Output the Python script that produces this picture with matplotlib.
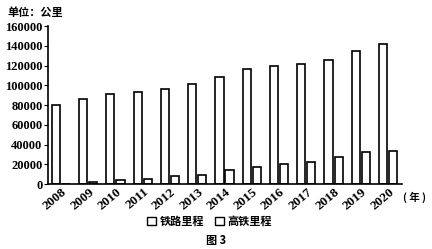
import numpy as np
import matplotlib
matplotlib.use("Agg")
import matplotlib.pyplot as plt
from matplotlib.patches import Patch

plt.rcParams['font.family'] = ['Liberation Serif', 'Noto Sans CJK SC']

years = ['2008', '2009', '2010', '2011', '2012', '2013', '2014',
         '2015', '2016', '2017', '2018', '2019', '2020']
railway = [80000, 85800, 91000, 93500, 96500, 101000, 109000,
           117000, 119500, 121500, 125600, 134700, 142000]
high_speed = [600, 2700, 4400, 5000, 8100, 9100, 14200,
              17500, 20300, 22600, 27700, 32400, 33700]

fig = plt.figure(figsize=(4.32, 2.49), dpi=100)
ax = fig.add_axes([0.111, 0.26, 0.82, 0.635])

x = np.arange(len(years))
w = 0.3
ax.bar(x, railway, w, color='white', edgecolor='black', linewidth=1.2)
ax.bar(x + 0.37, high_speed, w, color='white', edgecolor='black', linewidth=1.2)

ax.set_xlim(-0.29, 12.7)
ax.set_ylim(0, 160000)
ax.set_yticks(np.arange(0, 160001, 20000))
ax.tick_params(axis='y', labelsize=9, length=3, pad=1)
ax.set_xticks(x + 0.2)
ax.set_xticklabels(years, rotation=40, ha='right', rotation_mode='anchor',
                   fontsize=9.5, fontweight='bold')
ax.tick_params(axis='x', length=0, pad=1)
for lab in ax.get_yticklabels():
    lab.set_fontweight('bold')
ax.spines['top'].set_visible(False)
ax.spines['right'].set_visible(False)
ax.spines['left'].set_linewidth(1.2)
ax.spines['bottom'].set_linewidth(1.2)

cjk = ['Noto Sans CJK SC', 'DejaVu Sans']
fig.text(0.018, 0.935, '单位：公里', fontsize=8, fontweight='bold', family=cjk)
fig.text(0.932, 0.195, '( 年 )', fontsize=7.5, fontweight='bold', family=cjk)

handles = [Patch(facecolor='white', edgecolor='black', label='铁路里程'),
           Patch(facecolor='white', edgecolor='black', label='高铁里程')]
fig.legend(handles=handles, loc='center', bbox_to_anchor=(0.485, 0.112), ncol=2,
           frameon=False, handlelength=0.8, handleheight=0.8, handletextpad=0.3,
           columnspacing=1.0, prop={'family': cjk, 'size': 8, 'weight': 'bold'})
fig.text(0.5, 0.02, '图 3', fontsize=8, fontweight='bold', family=cjk, ha='center')

fig.savefig('out.png', dpi=100)
